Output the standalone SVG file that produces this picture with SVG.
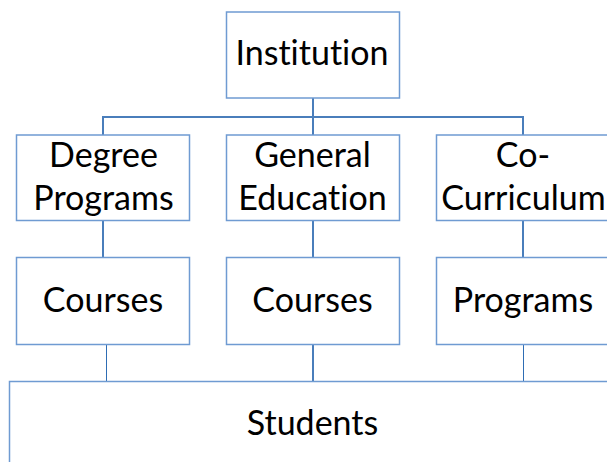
<svg xmlns="http://www.w3.org/2000/svg" width="607" height="462" viewBox="0 0 607 462">
<style>
.box{fill:#fff;stroke:#6f9bd2;stroke-width:1.5}
.c{fill:none;stroke:#4a7ebb;stroke-width:2}
.t{fill:none;stroke:#2e6db4;stroke-width:1}
text{font-family:Lato,"Open Sans",sans-serif;font-size:34px;fill:#000;text-anchor:middle;font-variant-ligatures:none}
</style>
<rect width="607" height="462" fill="#fff"/>
<g id="connectors">
<path class="c" d="M313 98V135M103 135V117H523V135M103 220V258M313 220V258M523 220V258M313 344V382"/>
<path class="t" d="M106.5 341V382M523.5 342V383"/>
</g>
<g id="institution"><rect class="box" x="226.5" y="12" width="173" height="86"/><text x="312" y="65">Institution</text></g>
<g id="degree"><rect class="box" x="16.5" y="135" width="173" height="85.5"/><text x="103.5" y="167">Degree</text><text x="103.5" y="209.5">Programs</text></g>
<g id="gened"><rect class="box" x="226.5" y="135" width="173" height="85.5"/><text x="312.5" y="167">General</text><text x="312.5" y="209.5">Education</text></g>
<g id="cocurr"><rect class="box" x="436.5" y="135" width="174" height="85.5"/><text x="523" y="167">Co-</text><text x="523.5" y="209.5">Curriculum</text></g>
<g id="courses1"><rect class="box" x="16.5" y="257.5" width="173" height="87"/><text x="103" y="312">Courses</text></g>
<g id="courses2"><rect class="box" x="226.5" y="257.5" width="173" height="87"/><text x="312.5" y="312">Courses</text></g>
<g id="programs"><rect class="box" x="436.5" y="257.5" width="174" height="87"/><text x="523" y="312">Programs</text></g>
<g id="students"><rect class="box" x="9.5" y="381.5" width="610" height="100"/><text x="312.5" y="435">Students</text></g>
</svg>
